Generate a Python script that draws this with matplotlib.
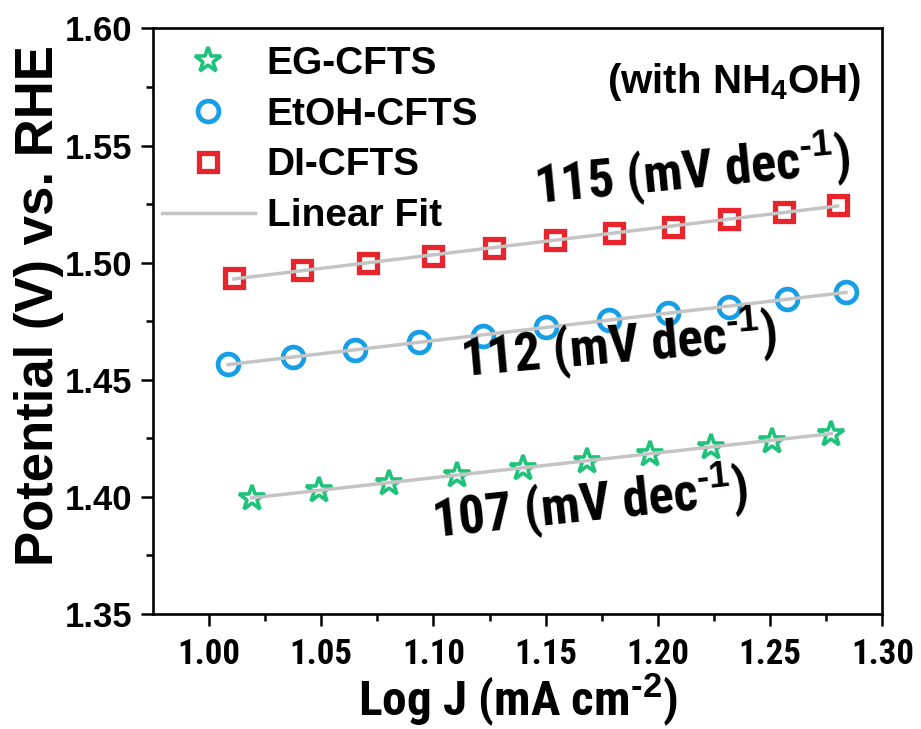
import numpy as np
import matplotlib
matplotlib.use("Agg")
import matplotlib.pyplot as plt
from matplotlib import font_manager

# look for a condensed bold sans, the reference uses a narrow face for some texts
narrow, stretch = 'Liberation Sans', 'normal'
pref = ['Liberation Sans Narrow', 'Arial Narrow', 'Roboto Condensed', 'Open Sans Condensed',
        'Noto Sans Condensed', 'DejaVu Sans', 'Noto Sans', 'Open Sans', 'Roboto']
found = False
for nm in pref:
    for f in font_manager.fontManager.ttflist:
        if f.name != nm:
            continue
        w = f.weight if isinstance(f.weight, int) else (700 if 'bold' in str(f.weight) else 400)
        st = str(f.stretch)
        if w >= 600 and ('Narrow' in nm or 'Condensed' in nm or st in ('condensed', 'semi-condensed', 'extra-condensed')):
            narrow, stretch = nm, st
            found = True
            break
    if found:
        break

plt.rcParams['font.family'] = ['Liberation Sans', 'DejaVu Sans']
plt.rcParams['font.weight'] = 'bold'
plt.rcParams['axes.labelweight'] = 'bold'
plt.rcParams['mathtext.fontset'] = 'custom'
plt.rcParams['mathtext.rm'] = 'Liberation Sans:bold'
plt.rcParams['mathtext.it'] = 'Liberation Sans:bold'
plt.rcParams['mathtext.bf'] = 'Liberation Sans:bold'

# data
x_eg = [1.0190, 1.0492, 1.0801, 1.1106, 1.1397, 1.1684, 1.1967, 1.2236, 1.2508, 1.2773]
y_eg = [1.3994, 1.4029, 1.4060, 1.4092, 1.4123, 1.4154, 1.4184, 1.4213, 1.4240, 1.4270]

x_etoh = [1.0085, 1.0375, 1.0652, 1.0936, 1.1219, 1.1503, 1.1782, 1.2047, 1.2316, 1.2577, 1.2838]
y_etoh = [1.4566, 1.4597, 1.4628, 1.4659, 1.4688, 1.4724, 1.4755, 1.4783, 1.4812, 1.4843, 1.4876]

x_di = [1.0111, 1.0416, 1.0707, 1.1000, 1.1271, 1.1543, 1.1806, 1.2067, 1.2316, 1.2562, 1.2801]
y_di = [1.4935, 1.4968, 1.4999, 1.5028, 1.5061, 1.5096, 1.5125, 1.5153, 1.5185, 1.5217, 1.5246]

labels = ['EG-CFTS', 'EtOH-CFTS', 'DI-CFTS']
slopes = ['107', '112', '115']

k = 1.0 if found else 0.85   # shrink narrow texts when no condensed face exists

fig = plt.figure(figsize=(9.21, 7.29), dpi=100)
ax = fig.add_axes([0.166, 0.158, 0.792, 0.803])

green = '#1fc27a'
blue = '#169fe6'
red = '#e8242c'
gray = '#c4c4c4'

ax.plot(x_eg, y_eg, linestyle='none', marker='*', ms=19, mfc='none', mec=green, mew=2.6, label=labels[0])
ax.plot(x_etoh, y_etoh, linestyle='none', marker='o', ms=15, mfc='none', mec=blue, mew=3.4, label=labels[1])
ax.plot(x_di, y_di, linestyle='none', marker='s', ms=13.5, mfc='none', mec=red, mew=3.8, label=labels[2])

first = True
for xs, ys in [(x_eg, y_eg), (x_etoh, y_etoh), (x_di, y_di)]:
    p = np.polyfit(xs, ys, 1)
    xx = np.array([xs[0], xs[-1]])
    ax.plot(xx, np.polyval(p, xx), color=gray, lw=2.5, zorder=3,
            label='Linear Fit' if first else None)
    first = False

ax.set_xlim(0.975, 1.30)
ax.set_ylim(1.35, 1.60)
ax.set_xticks(np.arange(1.00, 1.301, 0.05))
ax.set_xticks(np.arange(1.025, 1.30, 0.05), minor=True)
ax.set_yticks(np.arange(1.35, 1.601, 0.05))
ax.set_yticks(np.arange(1.375, 1.60, 0.05), minor=True)
ax.tick_params(which='major', direction='out', length=8.5, width=1.8, pad=6)
ax.tick_params(which='minor', direction='out', length=5, width=1.8)
ax.tick_params(axis='y', labelsize=25)
ax.tick_params(axis='x', labelsize=25 * k, pad=9)
for lab in ax.get_xticklabels():
    lab.set_family(narrow)
    lab.set_stretch(stretch)
for s in ax.spines.values():
    s.set_linewidth(1.9)

ax.set_xlabel('Log J (mA cm$^{\\text{-2}}$)', fontsize=35.5 * k, family=narrow,
              fontstretch=stretch, fontweight='bold')
ax.xaxis.set_label_coords(0.5, -0.098)
ax.set_ylabel('Potential (V) vs. RHE', fontsize=38, fontweight='bold')
ax.yaxis.set_label_coords(-0.122, 0.527)

ax.legend(loc='upper left', bbox_to_anchor=(-0.02, 1.01), frameon=False, fontsize=28,
          handlelength=2.4, handletextpad=0.3, labelspacing=0.38, borderaxespad=0.2)

ax.text(1.234, 1.577, '(with NH$_4$OH)', fontsize=29, ha='center', va='center')

ann = [(slopes[2], 1.2153, 1.5386, 5.5), (slopes[1], 1.1825, 1.464, 5.0), (slopes[0], 1.1695, 1.3965, 6.0)]
for s, tx, ty, rot in ann:
    ax.text(tx, ty, s + ' (mV dec$^{\\text{-1}}$)', family=narrow, fontstretch=stretch,
            fontsize=38 * k, ha='center', va='center', rotation=rot)

fig.savefig('out.png', dpi=100)
